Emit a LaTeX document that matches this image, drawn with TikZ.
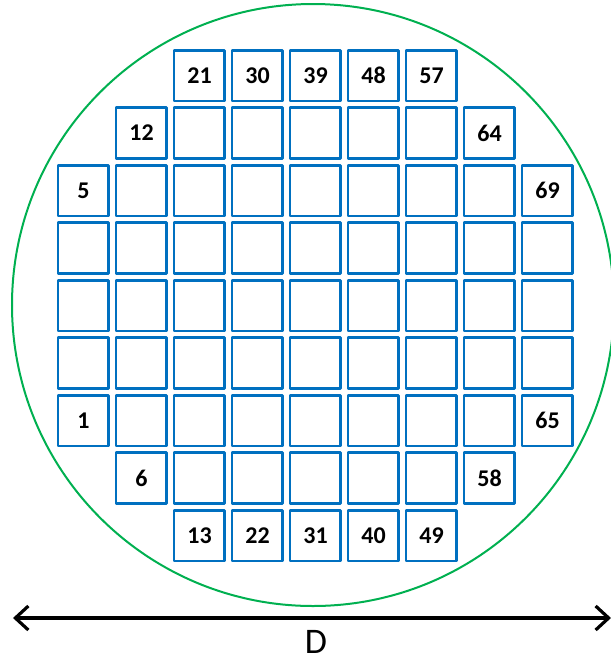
\documentclass[tikz,border=0pt]{standalone}
\usepackage{fontspec}
\setmainfont{Carlito}
\usetikzlibrary{arrows.meta}
\definecolor{dieblue}{RGB}{0,112,192}
\definecolor{wafergreen}{RGB}{0,176,80}
\tikzset{
die/.style={draw=dieblue, line width=1.3pt, minimum size=25.3pt, inner sep=0pt, font=\bfseries\fontsize{12}{12}\selectfont},
barb/.tip={Straight Barb[length=6.5pt, width=12pt, line width=1.6pt]}
}
\begin{document}
\begin{tikzpicture}[x=0.5pt, y=-0.5pt, line join=round, line cap=round]
\useasboundingbox (0,0) rectangle (611,661);
\def\buoc{58}   % bước ngang
\def\hang{57.5} % bước dọc
\draw[wafergreen, line width=1pt] (313,305) circle[radius=150.5pt]; % wafer
% cột/hàng đầu/hàng cuối/số đầu
\foreach \c/\a/\b/\s in {0/2/6/1, 1/1/7/6, 2/0/8/13, 3/0/8/22, 4/0/8/31, 5/0/8/40, 6/0/8/49, 7/1/7/58, 8/2/6/65}
  \foreach \r in {\a,...,\b}{
    \pgfmathtruncatemacro\n{\s+\b-\r}
    \node[die] (d\c-\r) at ({83.5+\buoc*\c},{75.5+\hang*\r})
      {\ifnum\r=\a\relax\n\else\ifnum\r=\b\relax\n\fi\fi};
  }
\coordinate (trai) at (13,618);
\coordinate (phai) at (611,618);
\draw[{barb}-{barb}, line width=1.6pt] (trai)--(phai); % đường kính
\node[font=\fontsize{18}{18}\selectfont, inner sep=0pt] (nhanD) at (316,641.5) {D};
\end{tikzpicture}
\end{document}
